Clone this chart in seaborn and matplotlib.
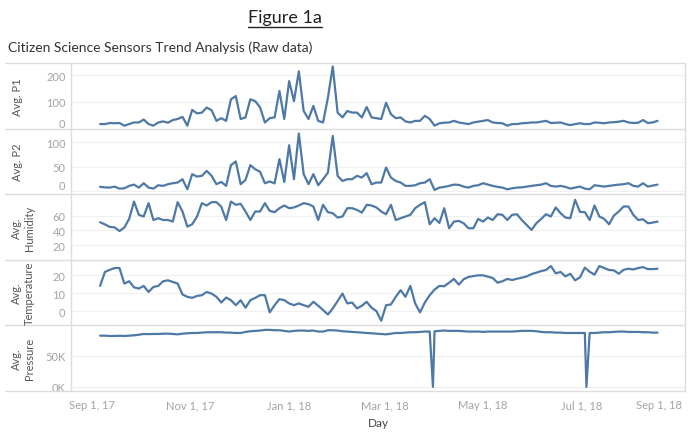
import numpy as np
import pandas as pd
import matplotlib
matplotlib.use("Agg")
import matplotlib.pyplot as plt
from matplotlib.lines import Line2D
import seaborn as sns

# one reading every third day, Sep 6 2017 .. Aug 17 2018
days = pd.date_range("2017-09-06", periods=116, freq="3D")

p1 = [17, 17, 21, 20, 21, 11, 17, 23, 23, 34,
      17, 11, 23, 27, 22, 32, 36, 44, 11, 70,
      57, 60, 79, 69, 29, 39, 29, 110, 122, 36,
      42, 110, 103, 80, 23, 39, 42, 141, 36, 178,
      103, 215, 66, 36, 85, 29, 23, 116, 233, 60,
      42, 66, 60, 60, 42, 81, 42, 39, 36, 97,
      54, 39, 42, 27, 23, 29, 29, 48, 36, 11,
      20, 22, 23, 29, 23, 20, 17, 23, 26, 29,
      32, 23, 21, 20, 11, 17, 17, 20, 21, 23,
      23, 26, 29, 21, 22, 23, 17, 13, 17, 20,
      17, 17, 23, 22, 20, 23, 24, 26, 29, 23,
      21, 22, 32, 21, 23, 29]

p2 = [9, 8, 7.5, 9.5, 5.4, 6, 11, 13.6, 7.5, 16.4,
      7.5, 5.4, 12.3, 11, 14.4, 16.4, 17.8, 24.6, 4, 35,
      30, 31.5, 41.7, 31.5, 14.4, 19, 11, 53.4, 60.9, 14.4,
      23.2, 53.4, 45, 40, 16.4, 20, 16, 65.7, 19, 94,
      24.6, 118, 35, 14.4, 35, 12.3, 24.6, 38, 113, 31.5,
      21, 24.6, 24.6, 31.5, 28, 37, 14.4, 17.8, 17.8, 48.6,
      28, 21, 17.8, 11, 11, 12.3, 16.4, 17.8, 24.6, 2.7,
      7.5, 8.9, 11, 13.6, 13, 9.5, 7.5, 11, 12.3, 16.4,
      13.6, 11, 8.9, 7.5, 4, 6, 7.5, 8, 9.5, 11,
      12.3, 13.6, 16.4, 11, 9.5, 11, 8.9, 5.4, 7.5, 9.5,
      5.4, 4, 12.3, 11, 9.5, 11, 12.3, 13.6, 14.4, 16.4,
      11, 9.5, 16.4, 9.5, 11.6, 13.6]

humidity = [51, 48, 44.6, 44, 39, 43.7, 55.5, 79, 61, 58.7,
            76.8, 54, 56.4, 54, 54, 51.8, 78.2, 65.5, 45, 48.2,
            58.7, 76.8, 73.7, 78.2, 78.2, 72, 54, 79, 74.6, 76,
            65.5, 54, 65.5, 65.5, 76.8, 66.4, 64.6, 70, 73.7, 70,
            71, 73.7, 76.8, 75.5, 72.3, 54, 74.6, 64.6, 63.2, 57.3,
            58.7, 70, 70, 67.7, 64, 74.6, 73.7, 71, 65.5, 61.8,
            74.6, 54, 56.4, 58.7, 61, 70, 74.6, 78.2, 48.2, 56.4,
            50, 70, 42.8, 51.8, 52.8, 49.6, 42.8, 42.8, 55.5, 51.8,
            57.3, 54, 61.8, 61, 54, 61, 61.8, 54, 47.3, 40.5,
            49.6, 55.5, 61.8, 58.7, 71, 63.2, 57.3, 56.4, 81.4, 65,
            64.6, 54, 73.7, 58.7, 55.5, 48.2, 60, 65.5, 72.3, 72.3,
            61, 54, 55, 49.6, 50.5, 51.8]

temperature = [14.1, 21.9, 23.1, 24.1, 24.1, 15.4, 16.7, 13.3, 12.6, 14.1,
               10.7, 13.5, 14.1, 16.7, 17.2, 16.3, 15.4, 9.3, 8, 7.4,
               8.5, 8.9, 10.7, 9.8, 8, 4.8, 7.6, 6.1, 3.3, 6.1,
               1.9, 6.1, 7.4, 8.9, 8.9, -0.7, 3.3, 6.7, 6.1, 4.3,
               3.3, 4.3, 3.3, 2.4, 5.2, 3, 0.6, -1.9, 1.5, 5.6,
               9.8, 4.3, 4.8, 1.5, 3, 5.2, 1.9, 0, -5.4, 3.3,
               3.7, 8, 11.7, 8, 14.1, 4.3, -0.7, 4.8, 8.9, 12,
               14.1, 13.9, 15.9, 18, 14.8, 17.8, 19.1, 19.6, 20, 20,
               19.3, 18.5, 15.9, 16.7, 18, 17.4, 18.1, 18.7, 19.4, 20.7,
               21.5, 22.4, 23, 25.2, 21.1, 21.9, 19.4, 20.9, 17.2, 18.9,
               24.3, 22, 20.4, 25.2, 24.1, 23, 22.8, 20.9, 23.1, 23.7,
               23.3, 24.1, 24.6, 23.5, 23.5, 23.7]

# thousands
pressure = [82.5, 82.5, 82, 82, 82.3, 82, 82.5, 83, 84, 85.2,
            85, 85.2, 85.2, 85.7, 85.7, 85.2, 84.6, 85.7, 86.3, 86.8,
            86.8, 87.4, 88, 88, 88, 88, 87.4, 87.4, 86.8, 86.8,
            88.5, 89.6, 90.2, 90.7, 91.8, 91.8, 91.2, 91.2, 90.2, 89.1,
            90.2, 90.7, 90.7, 90.2, 90.7, 89.1, 89.1, 91.2, 91.2, 90.7,
            89.6, 89.1, 88.5, 88, 87.4, 86.8, 86.3, 85.7, 85.2, 84.6,
            85.7, 86.8, 86.8, 87.4, 88, 88, 88.5, 89.1, 89.1, 89.6,
            90.2, 90.7, 90.2, 90.2, 90.2, 89.6, 89.1, 89.1, 89.1, 88.5,
            89.1, 89.1, 89.1, 89.1, 89.1, 89.1, 89.6, 90.2, 90.2, 90.2,
            89.6, 88.5, 88, 88, 87.4, 87.4, 86.8, 86.8, 86.8, 86.8,
            86.8, 86.8, 86.8, 87.4, 88, 88, 88.5, 89.1, 89.1, 88.5,
            88.5, 88.5, 88, 88, 87.4, 87.4]

# two single-day sensor dropouts
dip_days = ["2018-03-31", "2018-07-04"]
dip_vals = [0, 0]

panel_labels = ["Avg. P1", "Avg. P2", "Avg.\nHumidity", "Avg.\nTemperature", "Avg.\nPressure"]
y_ticks = [[0, 100, 200], [0, 50, 100], [20, 40, 60], [0, 10, 20], [0, 50000]]
y_ticklabels = [["0", "100", "200"], ["0", "50", "100"], ["20", "40", "60"],
                ["0", "10", "20"], ["0K", "50K"]]
y_limits = [(0, 246), (-6, 128), (0, 89), (-8, 28.7), (-6500, 99000)]

x_ticks = ["2017-09-01", "2017-11-01", "2018-01-01", "2018-03-01",
           "2018-05-01", "2018-07-01", "2018-09-01"]
x_ticklabels = ["Sep 1, 17", "Nov 1, 17", "Jan 1, 18", "Mar 1, 18",
                "May 1, 18", "Jul 1, 18", "Sep 1, 18"]

pres_df = pd.concat([
    pd.DataFrame({"day": days, "val": np.array(pressure) * 1000}),
    pd.DataFrame({"day": pd.to_datetime(dip_days), "val": np.array(dip_vals) * 1000}),
]).sort_values("day")

frames = [pd.DataFrame({"day": days, "val": v}) for v in (p1, p2, humidity, temperature)]
frames.append(pres_df)

sns.set_theme(style="white")
plt.rcParams["font.family"] = ["Lato", "DejaVu Sans"]

blue = "#4e79a7"
rule = "#dcdcdc"
W, H = 700, 435
left, right, top, bottom = 71, 685, 64, 392
ph = (bottom - top) / 5

fig = plt.figure(figsize=(7, 4.35), dpi=100)
fig.patch.set_facecolor("white")

for i, df in enumerate(frames):
    y0 = top + i * ph
    ax = fig.add_axes([left / W, 1 - (y0 + ph) / H, (right - left) / W, ph / H])
    sns.lineplot(data=df, x="day", y="val", ax=ax, color=blue, linewidth=1.6,
                 sort=False, estimator=None)
    ax.set_xlim(pd.Timestamp("2017-08-19"), pd.Timestamp("2018-09-03"))
    ax.set_ylim(*y_limits[i])
    ax.set_yticks(y_ticks[i])
    ax.set_yticklabels(y_ticklabels[i])
    ax.grid(axis="y", color="#f0f0f0", linewidth=0.8)
    ax.grid(axis="x", visible=False)
    for s in ax.spines.values():
        s.set_visible(False)
    ax.set_ylabel("")
    ax.set_xlabel("")
    ax.tick_params(length=0, labelsize=8, colors="#a3a3a3", pad=4)
    if i < 2:
        ax.get_yticklabels()[0].set_va("bottom")
    if i < 4:
        ax.set_xticks([])
    else:
        ax.set_xticks(pd.to_datetime(x_ticks))
        ax.set_xticklabels(x_ticklabels)
        ax.get_xticklabels()[-1].set_ha("right")
        ax.tick_params(axis="x", pad=6)
        ax.set_xlabel("Day", fontsize=8.5, color="#444444", labelpad=5)

    lx = 17.5 if "\n" not in panel_labels[i] else 23
    fig.text(lx / W, 1 - (y0 + ph / 2) / H, panel_labels[i], rotation=90,
             ha="center", va="center", multialignment="center",
             fontsize=8, color="#555555")

# panel rules
for k in range(6):
    yy = 1 - (top + k * ph) / H
    fig.add_artist(Line2D([5 / W, right / W], [yy, yy], color=rule, linewidth=1))
for xx in (left, right):
    fig.add_artist(Line2D([xx / W, xx / W], [1 - top / H, 1 - bottom / H],
                          color=rule, linewidth=1))

title = fig.text(285 / W, 1 - 18 / H, "Figure 1a", ha="center", va="center",
                 fontsize=13, color="#222222")
fig.text(8 / W, 1 - 48 / H, "Citizen Science Sensors Trend Analysis (Raw data)",
         ha="left", va="center", fontsize=10, color="#333333")

fig.canvas.draw()
bb = title.get_window_extent().transformed(fig.transFigure.inverted())
fig.add_artist(Line2D([bb.x0, bb.x1], [bb.y0 - 0.004, bb.y0 - 0.004],
                      color="#222222", linewidth=1))

fig.savefig("out.png", dpi=100, facecolor="white")
